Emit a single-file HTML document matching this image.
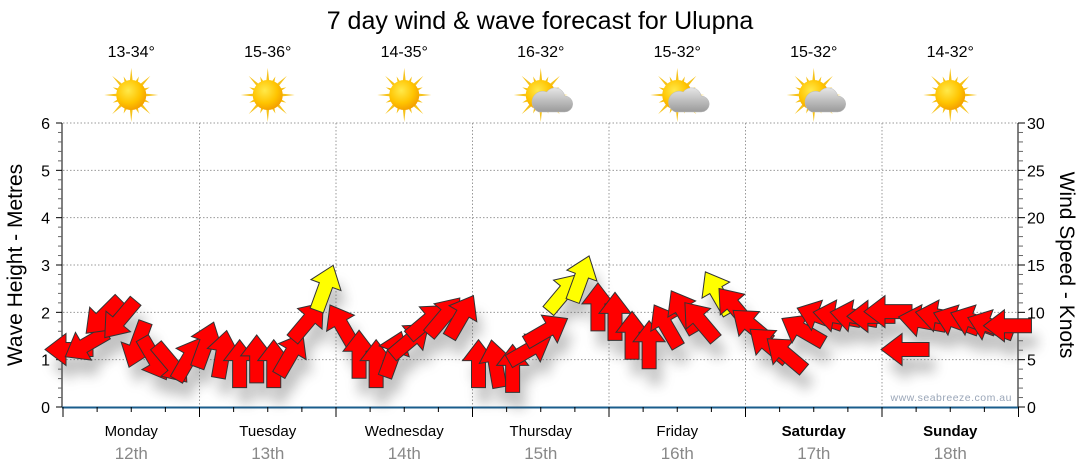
<!DOCTYPE html>
<html><head><meta charset="utf-8">
<style>
html,body{margin:0;padding:0;background:#fff;}
svg{display:block;font-family:"Liberation Sans","DejaVu Sans",sans-serif;}
</style></head>
<body>
<svg id="chart" width="1080" height="475" viewBox="0 0 1080 475" xmlns="http://www.w3.org/2000/svg">
<defs>
<radialGradient id="sunG" cx="0.4" cy="0.35" r="0.7">
<stop offset="0" stop-color="#ffe94a"/><stop offset="0.6" stop-color="#ffc400"/><stop offset="1" stop-color="#f29a00"/>
</radialGradient>
<linearGradient id="cloudG" x1="0" y1="0" x2="0" y2="1">
<stop offset="0" stop-color="#e6e6e6"/><stop offset="1" stop-color="#9a9a9a"/>
</linearGradient>
<filter id="shadow" x="-50%" y="-50%" width="200%" height="200%">
<feGaussianBlur stdDeviation="6"/>
</filter>
</defs>
<text x="540" y="29" font-size="25" text-anchor="middle" fill="#000">7 day wind &amp; wave forecast for Ulupna</text>
<g id="topG"></g>
<g id="gridG"></g>
<g id="axesG"></g>
<g id="shadowG" filter="url(#shadow)" opacity="0.35"></g>
<g id="arrowG"></g>
<text x="1012" y="401" font-size="10.5" text-anchor="end" fill="#9aa6b8" letter-spacing="0.5">www.seabreeze.com.au</text>
<text transform="translate(22,265) rotate(-90)" font-size="21" text-anchor="middle">Wave Height - Metres</text>
<text transform="translate(1060,265) rotate(90)" font-size="21" text-anchor="middle">Wind Speed - Knots</text>
</svg>
<script>
const days = ["Monday","Tuesday","Wednesday","Thursday","Friday","Saturday","Sunday"];
const dates = ["12th","13th","14th","15th","16th","17th","18th"];
const temps = ["13-34°","15-36°","14-35°","16-32°","15-32°","15-32°","14-32°"];
const cloudy = [false,false,false,true,true,true,false];
const waveTicks = [0,1,2,3,4,5,6];
const windTicks = [0,5,10,15,20,25,30];
const windSpeed = [6.5,7,10,9.7,7,5.5,5,5.5, 7,6,5,5.5,5,6,9.5,13, 9,6,5,6,7.5,9.5,10,10, 5,5,4.5,6.5,8.5,12.5,14,11, 10,8,7,9,10.5,9.5,12.5,11, 9,7,6,8.5,10,10,10,10, 10.5,6.5,9.5,10,9.5,9.5,9,9];
const windDir = [270,240,225,220,200,150,140,30, 20,10,0,0,0,30,40,20, 330,0,0,20,50,50,40,30, 0,350,0,60,60,40,20,0, 0,0,0,330,330,320,330,320, 310,310,310,300,290,280,280,270, 270,270,280,280,290,290,290,270];

const X0=63, DAYW=136.5, Y0=407, Y1=123;
const xT = t => X0 + t*DAYW;
const yWave = m => Y0 - m*(Y0-Y1)/6;
const yWind = k => Y0 - k*(Y0-Y1)/30;
const NS="http://www.w3.org/2000/svg";
function mk(tag, attrs, parent, txt){const e=document.createElementNS(NS,tag);for(const k in attrs)e.setAttribute(k,attrs[k]);if(txt!==undefined)e.textContent=txt;parent.appendChild(e);return e;}
const topG=document.getElementById('topG'), gridG=document.getElementById('gridG'), axesG=document.getElementById('axesG');

days.forEach((d,i)=>{
  const cx = xT(i+0.5);
  const t = mk('text',{x:cx,y:57,'font-size':16,'text-anchor':'middle'},topG,temps[i]);
  
  
  const g = mk('g',{transform:`translate(${cx},95)`},topG);
  
  
  for(let a=0;a<16;a++){
    const L = a%2?20:27, ang=a*Math.PI/8;
    const w=0.12;
    const p=[[Math.cos(ang-w)*13,Math.sin(ang-w)*13],[Math.cos(ang)*L,Math.sin(ang)*L],[Math.cos(ang+w)*13,Math.sin(ang+w)*13]];
    mk('polygon',{points:p.map(q=>q.join(',')).join(' '),fill:'#f6c21a'},g);
  }
  mk('circle',{cx:0,cy:0,r:15,fill:'url(#sunG)'},g);
  if(cloudy[i]){
    const c=mk('g',{transform:'translate(8,5)'},g);
    mk('path',{d:'M-10,12 h26 a8,8 0 0 0 0,-16 a10,10 0 0 0 -18,-4 a8,8 0 0 0 -8,20 z',fill:'url(#cloudG)',stroke:'#bbb','stroke-width':0.5},c);
  }
  const dl = mk('text',{x:cx,y:436,'font-size':15,'text-anchor':'middle','font-weight':i>=5?'bold':'normal'},axesG,d);
  
  
  const dt = mk('text',{x:cx,y:459,'font-size':17,'text-anchor':'middle',fill:'#888'},axesG,dates[i]);
  
  
});

waveTicks.forEach(m=>{
  if(m>0){const l=mk('line',{x1:X0,x2:xT(7),y1:yWave(m),y2:yWave(m),stroke:'#999','stroke-dasharray':'1.5,2','stroke-width':1},gridG);
  
  }
  const tl=mk('text',{x:50,y:yWave(m)+6,'font-size':16,'text-anchor':'end'},axesG,m);
  
  
});
for(let i=1;i<7;i++){const l=mk('line',{x1:xT(i),x2:xT(i),y1:Y1,y2:Y0,stroke:'#999','stroke-dasharray':'1.5,2'},gridG);
  
  }
windTicks.forEach(k=>{
  const tl=mk('text',{x:1027,y:yWind(k)+6,'font-size':16},axesG,k);
  
  
});
mk('line',{x1:62,x2:62,y1:Y1,y2:Y0,stroke:'#000'},axesG);
mk('line',{x1:1018,x2:1018,y1:Y1,y2:Y0,stroke:'#000'},axesG);
for(let m=0;m<=30;m++){const y=Y0-m*(Y0-Y1)/30;const maj=m%5==0;
  mk('line',{x1:maj?56:58,x2:62,y1:y,y2:y,stroke:maj?'#000':'#666'},axesG);
  mk('line',{x1:1018,x2:maj?1025:1023,y1:y,y2:y,stroke:maj?'#000':'#666'},axesG);}
const xa=mk('line',{x1:62,x2:1018,y1:Y0+0.5,y2:Y0+0.5,stroke:'#1a5d8c','stroke-width':2},axesG);


for(let q=0;q<=28;q++){const x=xT(q/4);mk('line',{x1:x,x2:x,y1:Y0,y2:q%4==0?417:412,stroke:'#000'},axesG);}

const shadowG=document.getElementById('shadowG'), arrowG=document.getElementById('arrowG');
const shape="0,-24 16,-3 7,-3 7,24 -7,24 -7,-3 -16,-3";
windSpeed.forEach((k,i)=>{
  const x = xT(i/8)+6, y=yWind(k)+4;
  mk('polygon',{points:shape,fill:'#555',transform:`translate(${x+6},${y+16}) rotate(${windDir[i]})`},shadowG);
  const p=mk('polygon',{points:shape,fill:k>=12?'#ffff00':'#ff0000',stroke:'#333','stroke-width':1,transform:`translate(${x},${y}) rotate(${windDir[i]})`},arrowG);
  
  
});
</script>
</body></html>
